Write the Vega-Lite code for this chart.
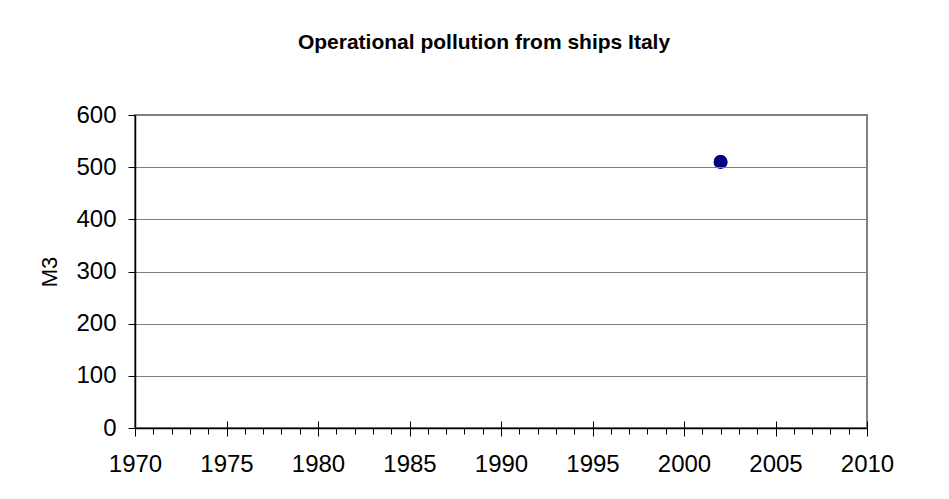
{
  "$schema": "https://vega.github.io/schema/vega-lite/v6.json",
  "autosize": {"type": "none"},
  "padding": {"left": 135, "top": 115, "right": 82, "bottom": 71},
  "width": 732,
  "height": 313,
  "background": "white",
  "title": {
    "text": "Operational pollution from ships Italy",
    "font": "Liberation Sans",
    "fontSize": 21,
    "fontWeight": "bold",
    "color": "black",
    "anchor": "middle",
    "frame": "group",
    "dx": -17,
    "offset": 50
  },
  "config": {
    "view": {"stroke": "#808080", "strokeWidth": 2},
    "axis": {
      "labelFont": "Liberation Sans",
      "titleFont": "Liberation Sans",
      "labelColor": "black",
      "titleColor": "black",
      "tickColor": "black",
      "domainColor": "black"
    }
  },
  "data": {"values": [{"year": 2002, "m3": 510}]},
  "layer": [
    {
      "mark": {"type": "point", "filled": true, "shape": "circle", "size": 190, "color": "#000080", "opacity": 1},
      "encoding": {
        "x": {
          "field": "year",
          "type": "quantitative",
          "scale": {"domain": [1970, 2010], "nice": false, "zero": false},
          "axis": {
            "orient": "bottom",
            "title": null,
            "values": [1970,1971,1972,1973,1974,1975,1976,1977,1978,1979,1980,1981,1982,1983,1984,1985,1986,1987,1988,1989,1990,1991,1992,1993,1994,1995,1996,1997,1998,1999,2000,2001,2002,2003,2004,2005,2006,2007,2008,2009,2010],
            "format": "d",
            "labelExpr": "datum.value % 5 === 0 ? datum.label : ''",
            "labelOverlap": false,
            "labelFlush": false,
            "labelFontSize": 24,
            "labelPadding": 18,
            "tickSize": 6,
            "tickWidth": 1,
            "domainWidth": 1.5,
            "grid": false,
            "zindex": 1
          }
        },
        "y": {
          "field": "m3",
          "type": "quantitative",
          "scale": {"domain": [0, 600], "nice": false},
          "axis": {
            "title": "M3",
            "titleFontSize": 22,
            "titleFontWeight": "normal",
            "titlePadding": 14,
            "values": [0, 100, 200, 300, 400, 500, 600],
            "labelFontSize": 24,
            "labelPadding": 12,
            "tickSize": 7,
            "tickWidth": 1,
            "domainWidth": 1.5,
            "grid": true,
            "gridColor": "#808080",
            "gridWidth": 1,
            "zindex": 1
          }
        }
      }
    },
    {
      "mark": {"type": "point", "filled": true, "shape": "circle", "size": 190, "color": "#000080", "opacity": 1},
      "encoding": {
        "x": {
          "field": "year",
          "type": "quantitative",
          "scale": {"domain": [1970, 2010], "nice": false, "zero": false},
          "axis": {
            "orient": "bottom",
            "title": null,
            "values": [1970, 1975, 1980, 1985, 1990, 1995, 2000, 2005, 2010],
            "labels": false,
            "domain": false,
            "grid": false,
            "offset": -7,
            "tickSize": 15,
            "tickWidth": 1,
            "zindex": 1
          }
        },
        "y": {
          "field": "m3",
          "type": "quantitative",
          "scale": {"domain": [0, 600], "nice": false},
          "axis": null
        }
      }
    }
  ],
  "resolve": {"axis": {"x": "independent", "y": "independent"}}
}
